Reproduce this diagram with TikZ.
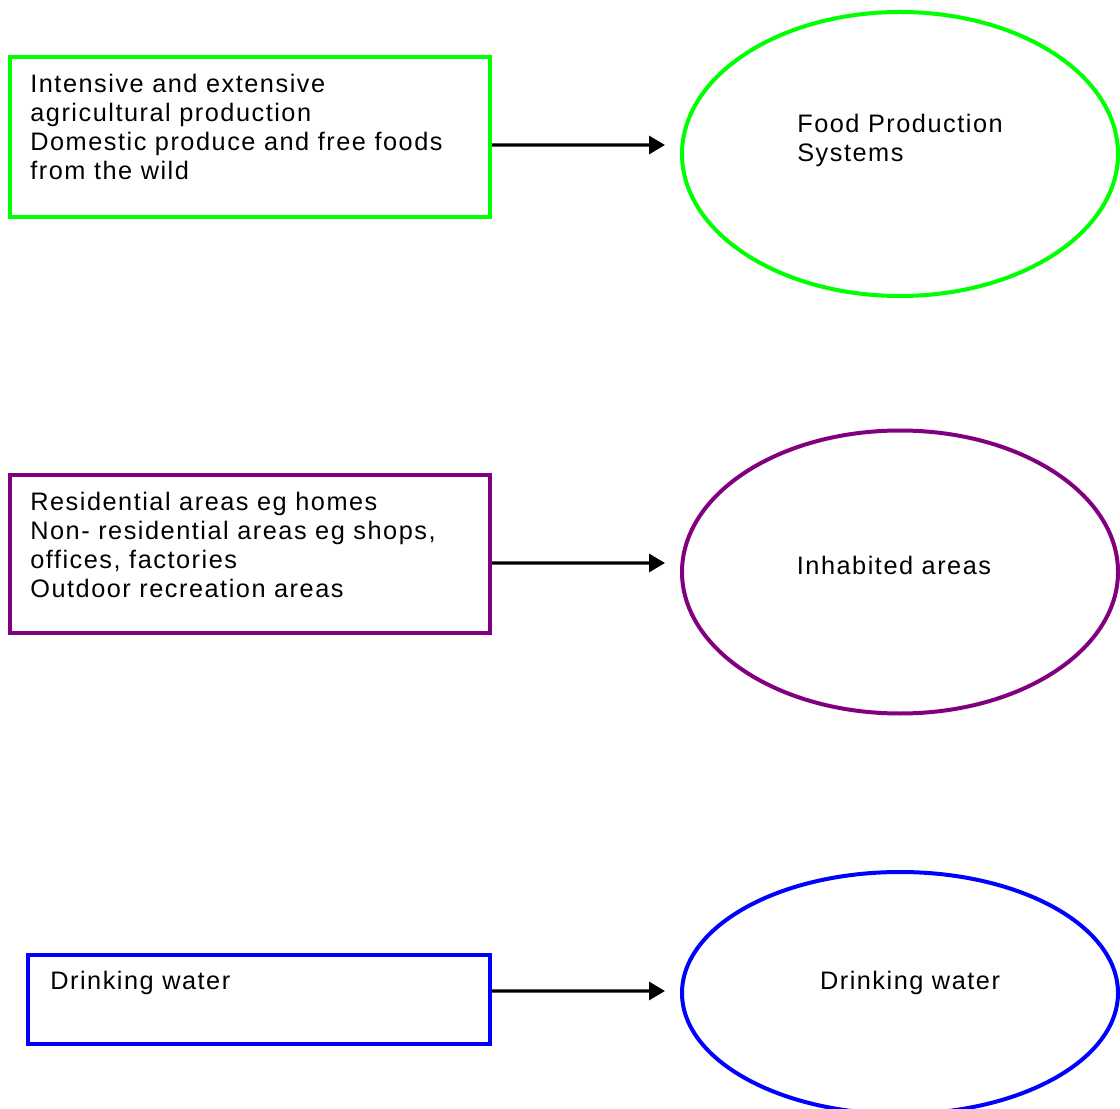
\documentclass[tikz,border=0pt]{standalone}
\usepackage{fontspec}
\usepackage{tikz}
\usetikzlibrary{shapes.geometric, arrows.meta, positioning}
\newfontfamily\diagfont[LetterSpace=6]{Liberation Sans}
\definecolor{foodgreen}{HTML}{00FF00}
\definecolor{homepurple}{HTML}{800080}
\definecolor{waterblue}{HTML}{0000FF}

\begin{document}
\begin{tikzpicture}[
    srcbox/.style={rectangle, line width=0.08cm, minimum width=9.6cm, inner sep=0pt},
    sysring/.style={ellipse, line width=0.08cm, minimum width=8.72cm, inner sep=0pt},
    txt/.style={inner sep=0pt, align=left, font=\diagfont\fontsize{14.4pt}{16.5pt}\selectfont},
    arr/.style={-{Triangle[length=0.32cm, width=0.36cm]}, line width=0.065cm},
]
    \useasboundingbox (0,0) rectangle (22.4,-22.18);
    \clip (0,0) rectangle (22.4,-22.18);

    % food production
    \node[srcbox, draw=foodgreen, minimum height=3.2cm] (agribox) at (5.0,-2.74) {};
    \node[txt, below right=0.38cm and 0.44cm of agribox.north west] (agritext)
        {Intensive and extensive\\agricultural production\\Domestic produce and free foods\\from the wild};
    \node[sysring, draw=foodgreen, minimum height=5.68cm] (food) at (18.0,-3.08) {};
    \node[txt, anchor=north] (foodtext) at ([yshift=0.8cm]food.center) {Food Production\\Systems};

    % inhabited areas
    \node[srcbox, draw=homepurple, minimum height=3.16cm] (homebox) at (5.0,-11.08) {};
    \node[txt, below right=0.38cm and 0.44cm of homebox.north west] (hometext)
        {Residential areas eg homes\\Non- residential areas eg shops,\\offices, factories\\Outdoor recreation areas};
    \node[sysring, draw=homepurple, minimum height=5.66cm] (inhab) at (18.0,-11.44) {};
    \node[txt, anchor=north] (inhabtext) at ([xshift=-0.12cm, yshift=0.32cm]inhab.center) {Inhabited areas};

    % drinking water
    \node[srcbox, draw=waterblue, minimum width=9.24cm, minimum height=1.78cm] (waterbox) at (5.18,-19.99) {};
    \node[txt, below right=0.36cm and 0.48cm of waterbox.north west] (watertext) {Drinking water};
    \node[sysring, draw=waterblue, minimum height=4.84cm] (water) at (18.0,-19.86) {};
    \node[txt, anchor=north] (waterring) at ([xshift=0.2cm, yshift=0.44cm]water.center) {Drinking water};

    \draw[arr] ([yshift=-0.16cm]agribox.east) -- ([xshift=-0.3cm, yshift=0.18cm]food.west);
    \draw[arr] ([yshift=-0.18cm]homebox.east) -- ([xshift=-0.3cm, yshift=0.18cm]inhab.west);
    \draw[arr] ([yshift=0.17cm]waterbox.east) -- ([xshift=-0.3cm, yshift=0.04cm]water.west);
\end{tikzpicture}
\end{document}
